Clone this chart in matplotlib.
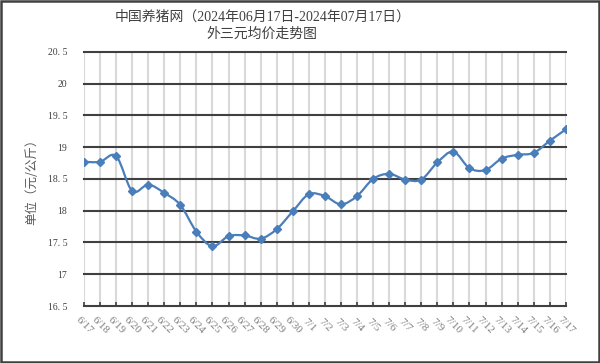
import matplotlib.pyplot as plt
from matplotlib.path import Path
from matplotlib.patches import PathPatch, Rectangle
from matplotlib.transforms import ScaledTranslation

plt.rcParams['font.family'] = ['Liberation Serif', 'Noto Sans CJK SC']

# 日期和外三元均价（元/公斤）
dates = ['6/17', '6/18', '6/19', '6/20', '6/21', '6/22', '6/23', '6/24',
         '6/25', '6/26', '6/27', '6/28', '6/29', '6/30',
         '7/1', '7/2', '7/3', '7/4', '7/5', '7/6', '7/7', '7/8', '7/9',
         '7/10', '7/11', '7/12', '7/13', '7/14', '7/15', '7/16', '7/17']
prices = [18.77, 18.77, 18.86, 18.31, 18.41, 18.28, 18.09, 17.67,
          17.44, 17.60, 17.61, 17.56, 17.71, 17.99,
          18.26, 18.23, 18.10, 18.23, 18.50, 18.58, 18.49, 18.49, 18.76,
          18.93, 18.67, 18.64, 18.82, 18.88, 18.91, 19.10, 19.28]
y_ticks = [16.5, 17, 17.5, 18, 18.5, 19, 19.5, 20, 20.5]
y_labels = ['16. 5', '17', '17. 5', '18', '18. 5', '19', '19. 5', '20', '20. 5']

LINE = '#4a7ebb'


def smooth_path(xs, ys):
    # сглаживание как в Excel (Catmull-Rom -> Bezier)
    n = len(xs)
    verts = [(xs[0], ys[0])]
    codes = [Path.MOVETO]
    for i in range(n - 1):
        x0, y0 = (xs[i - 1], ys[i - 1]) if i > 0 else (xs[i], ys[i])
        x1, y1 = xs[i], ys[i]
        x2, y2 = xs[i + 1], ys[i + 1]
        x3, y3 = (xs[i + 2], ys[i + 2]) if i + 2 < n else (x2, y2)
        verts += [(x1 + (x2 - x0) / 6, y1 + (y2 - y0) / 6),
                  (x2 - (x3 - x1) / 6, y2 - (y3 - y1) / 6),
                  (x2, y2)]
        codes += [Path.CURVE4] * 3
    return Path(verts, codes)


fig = plt.figure(figsize=(6, 3.63), dpi=100)
ax = fig.add_axes([0.14, 0.157, 0.803, 0.70])

x = list(range(len(dates)))
ax.add_patch(PathPatch(smooth_path(x, prices), facecolor='none',
                       edgecolor=LINE, lw=1.6, zorder=3))
ax.plot(x, prices, ls='none', marker='D', ms=3.8, color=LINE, zorder=4)

ax.set_xlim(0, len(dates) - 1)
ax.set_ylim(16.5, 20.5)
ax.set_yticks(y_ticks)
ax.set_yticklabels(y_labels, fontsize=7, color='#404040')
ax.set_xticks(x)
ax.set_xticklabels(dates, fontsize=8, color='#7f7f7f', rotation=-45,
                   ha='center', va='center', rotation_mode='anchor')
shift = ScaledTranslation(0.03, 0, fig.dpi_scale_trans)
for lab in ax.get_xticklabels():
    lab.set_transform(lab.get_transform() + shift)

for s in ['left', 'right', 'top']:
    ax.spines[s].set_visible(False)
ax.spines['bottom'].set_color('#404040')
ax.spines['bottom'].set_linewidth(1.5)

for yv in y_ticks[1:]:
    ax.axhline(yv, color='#404040', lw=1.5, zorder=2, clip_on=False)
for xv in x:
    ax.axvline(xv, color='#d9d9d9', lw=1.5, zorder=1)

ax.tick_params(axis='y', length=0, pad=12)
ax.tick_params(axis='x', direction='in', length=3, width=1.2,
               color='#404040', pad=14)

ax.set_ylabel('单位（元/公斤）', fontsize=9, color='#595959',
              family=['Noto Sans CJK SC'], labelpad=7)

fig.text(0.437, 0.953, '中国养猪网（2024年06月17日-2024年07月17日）',
         ha='center', va='center', fontsize=10, color='#404040')
fig.text(0.437, 0.906, '外三元均价走势图', ha='center', va='center',
         fontsize=10, color='#404040')

fig.patches.append(Rectangle((0.002, 0.003), 0.996, 0.994,
                             transform=fig.transFigure, fill=False,
                             edgecolor='#404040', lw=1.8))

fig.savefig('out.png', dpi=100)
